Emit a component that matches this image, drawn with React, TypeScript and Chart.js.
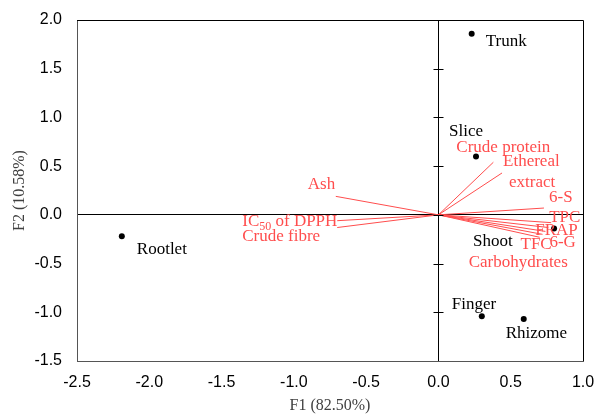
import { useEffect, useRef } from 'react';
import { Chart, registerables } from 'chart.js';

Chart.register(...registerables);

// ---- data ----
const observationNames = ['Trunk', 'Slice', 'Shoot', 'Finger', 'Rhizome', 'Rootlet'];
const observationF1 = [0.23, 0.26, 0.8, 0.3, 0.59, -2.19];
const observationF2 = [1.86, 0.6, -0.14, -1.04, -1.07, -0.22];

const variableNames = [
  'Crude protein',
  'Ethereal|extract',
  '6-S',
  'TPC',
  'FRAP',
  '6-G',
  'TFC',
  'Carbohydrates',
  'Ash',
  'IC_50 of DPPH',
  'Crude fibre',
];
const variableF1 = [0.38, 0.44, 0.73, 0.78, 0.76, 0.74, 0.72, 0.7, -0.71, -0.7, -0.7];
const variableF2 = [0.54, 0.43, 0.07, -0.08, -0.13, -0.17, -0.2, -0.23, 0.19, -0.06, -0.13];

const xTickValues = [-2.5, -2.0, -1.5, -1.0, -0.5, 0.0, 0.5, 1.0];
const yTickValues = [-1.5, -1.0, -0.5, 0.0, 0.5, 1.0, 1.5, 2.0];

const xTitle = 'F1 (82.50%)';
const yTitle = 'F2 (10.58%)';

// ---- layout of labels (pixel offsets from the mark) ----
const observationLabelOffsets: [number, number][] = [
  [14, 8],
  [-27, -25],
  [-81, 13],
  [-30, -12],
  [-18, 14],
  [15, 13],
];
const variableLabelOffsets: [number, number][] = [
  [-37, -15],
  [1, -11],
  [5, -11],
  [-2, -5],
  [-13, 3],
  [4, 11],
  [-22, 10],
  [-71, 25],
  [-28, -12],
  [-95, 1],
  [-95, 9],
];

const RED = '#ff4d4d';
const LABEL_FONT = '17px "Liberation Serif", "Times New Roman", serif';

function drawRichText(ctx: CanvasRenderingContext2D, text: string, x: number, y: number) {
  if (text.includes('_')) {
    const m = text.match(/^(.*?)_(\d+)(.*)$/);
    if (m) {
      ctx.font = LABEL_FONT;
      ctx.fillText(m[1], x, y);
      let cx = x + ctx.measureText(m[1]).width;
      ctx.font = '12px "Liberation Serif", "Times New Roman", serif';
      ctx.fillText(m[2], cx, y + 5);
      cx += ctx.measureText(m[2]).width;
      ctx.font = LABEL_FONT;
      ctx.fillText(m[3], cx, y);
      return;
    }
  }
  ctx.font = LABEL_FONT;
  ctx.fillText(text, x, y);
}

const biplotPlugin = {
  id: 'biplotDecor',
  afterDatasetsDraw(chart: any) {
    const { ctx, chartArea, scales } = chart;
    const xs = scales.x;
    const ys = scales.y;
    ctx.save();
    ctx.strokeStyle = '#000';
    ctx.lineWidth = 1;
    ctx.beginPath();
    ctx.moveTo(chartArea.left, chartArea.top + 0.5);
    ctx.lineTo(chartArea.right + 0.5, chartArea.top + 0.5);
    ctx.lineTo(chartArea.right + 0.5, chartArea.bottom);
    ctx.stroke();
    const x0 = Math.round(xs.getPixelForValue(0)) + 0.5;
    ctx.beginPath();
    yTickValues.forEach((v) => {
      if (v === yTickValues[0] || v === yTickValues[yTickValues.length - 1]) return;
      const py = Math.round(ys.getPixelForValue(v)) + 0.5;
      ctx.moveTo(x0 - 5, py);
      ctx.lineTo(x0 + 5, py);
    });
    ctx.stroke();

    ctx.textAlign = 'left';
    ctx.textBaseline = 'middle';
    ctx.fillStyle = '#000';
    observationNames.forEach((name, i) => {
      const px = xs.getPixelForValue(observationF1[i]);
      const py = ys.getPixelForValue(observationF2[i]);
      const [dx, dy] = observationLabelOffsets[i];
      drawRichText(ctx, name, px + dx, py + dy);
    });
    ctx.fillStyle = RED;
    variableNames.forEach((name, i) => {
      const px = xs.getPixelForValue(variableF1[i]);
      const py = ys.getPixelForValue(variableF2[i]);
      const [dx, dy] = variableLabelOffsets[i];
      const lines = name.split('|');
      lines.forEach((ln, k) => {
        drawRichText(ctx, ln, px + dx + (k > 0 ? 6 : 0), py + dy + k * 21);
      });
    });
    ctx.restore();
  },
};

export default function App() {
  const canvasRef = useRef<HTMLCanvasElement | null>(null);

  useEffect(() => {
    if (!canvasRef.current) return;
    const vectorDatasets = variableNames.map((name, i) => ({
      type: 'scatter' as const,
      label: name,
      data: [
        { x: 0, y: 0 },
        { x: variableF1[i], y: variableF2[i] },
      ],
      showLine: true,
      borderColor: RED,
      borderWidth: 1,
      pointRadius: 0,
      fill: false,
    }));
    const chart = new Chart(canvasRef.current, {
      type: 'scatter',
      data: {
        datasets: [
          ...vectorDatasets,
          {
            label: 'Observations',
            data: observationF1.map((x, i) => ({ x, y: observationF2[i] })),
            backgroundColor: '#000',
            borderColor: '#000',
            pointRadius: 3,
            pointBorderWidth: 0,
          },
        ] as any,
      },
      options: {
        responsive: false,
        animation: false,
        layout: { padding: { top: 20, right: 12, left: 0, bottom: 0 } },
        plugins: {
          legend: { display: false },
          tooltip: { enabled: false },
        },
        scales: {
          x: {
            type: 'linear',
            min: -2.5,
            max: 1.0,
            afterFit: (s: any) => {
              s.height = 54;
              s.paddingLeft = 0;
              s.paddingRight = 0;
            },
            afterBuildTicks: (s: any) => {
              s.ticks = xTickValues.map((v) => ({ value: v }));
            },
            ticks: {
              padding: 12,
              color: '#000',
              font: { family: '"Liberation Sans", Arial, sans-serif', size: 16 },
              callback: (v: any) => Number(v).toFixed(1),
              maxRotation: 0,
            },
            grid: {
              drawTicks: false,
              color: (c: any) => (c.tick && c.tick.value === 0 ? '#000' : 'rgba(0,0,0,0)'),
              lineWidth: 1,
            },
            border: { display: true, color: '#555', width: 1 },
            title: {
              display: true,
              text: xTitle,
              color: '#404040',
              font: { family: '"Liberation Serif", "Times New Roman", serif', size: 16 },
              padding: { top: 0, bottom: 0 },
            },
          },
          y: {
            type: 'linear',
            min: -1.5,
            max: 2.0,
            afterFit: (s: any) => {
              s.width = 77;
              s.paddingTop = 0;
              s.paddingBottom = 0;
            },
            afterBuildTicks: (s: any) => {
              s.ticks = yTickValues.map((v) => ({ value: v }));
            },
            ticks: {
              padding: 15,
              color: '#000',
              font: { family: '"Liberation Sans", Arial, sans-serif', size: 16 },
              callback: (v: any) => Number(v).toFixed(1),
            },
            grid: {
              drawTicks: false,
              color: (c: any) => (c.tick && c.tick.value === 0 ? '#000' : 'rgba(0,0,0,0)'),
              lineWidth: 1,
            },
            border: { display: true, color: '#555', width: 1 },
            title: {
              display: true,
              text: yTitle,
              color: '#404040',
              font: { family: '"Liberation Serif", "Times New Roman", serif', size: 16 },
              padding: { top: 10, bottom: 0 },
            },
          },
        },
      },
      plugins: [biplotPlugin],
    });
    return () => chart.destroy();
  }, []);

  return (
    <div style={{ position: 'absolute', left: 0, top: 0, width: 595, height: 415, background: '#fff' }}>
      <canvas ref={canvasRef} width={595} height={415} />
    </div>
  );
}
